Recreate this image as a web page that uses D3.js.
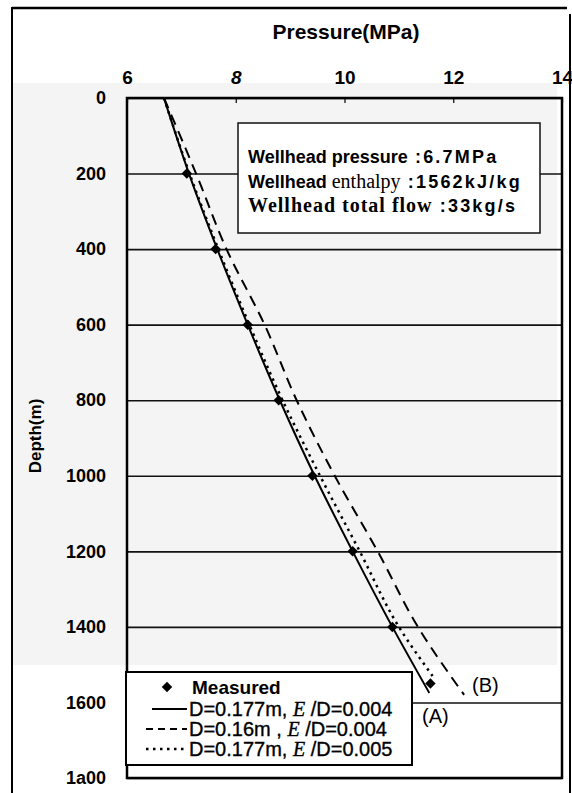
<!DOCTYPE html>
<html lang="en">
<head>
<meta charset="UTF-8">
<title>Pressure vs Depth</title>
<script src="https://d3js.org/d3.v7.min.js"></script>
<style>
  body { margin: 0; background: #fff; }
  svg { display: block; font-family: 'Liberation Sans', Arial, sans-serif; }
  .serif { font-family: 'Liberation Serif', 'Times New Roman', serif; }
</style>
</head>
<body>
<svg width="572" height="793"></svg>
<script>
// values
const pressureTicks = [6, 8, 10, 12, 14];
const depthTicks = [0, 200, 400, 600, 800, 1000, 1200, 1400, 1600, 1800];
const depthLabels = ["0", "200", "400", "600", "800", "1000", "1200", "1400", "1600", "1a00"];

const measuredDepth = [200, 400, 600, 800, 1000, 1200, 1400, 1550];
const measuredPressure = [7.10, 7.63, 8.22, 8.79, 9.41, 10.15, 10.88, 11.58];

// (A) D=0.177m, e/D=0.004
const caseADepth = [0, 200, 400, 600, 800, 1000, 1200, 1400, 1575];
const caseAPressure = [6.68, 7.14, 7.66, 8.22, 8.81, 9.45, 10.15, 10.88, 11.56];
// (B) D=0.16m, e/D=0.004
const caseBDepth = [0, 200, 400, 600, 800, 1000, 1200, 1400, 1580];
const caseBPressure = [6.68, 7.27, 7.83, 8.53, 9.12, 9.82, 10.61, 11.35, 12.2];
// D=0.177m, e/D=0.005
const caseCDepth = [0, 200, 400, 600, 800, 1000, 1200, 1400, 1530];
const caseCPressure = [6.68, 7.15, 7.68, 8.25, 8.86, 9.55, 10.28, 11.0, 11.62];

const infoLines = [
  ["Wellhead", " pressure", " :6.7MPa"],
  ["Wellhead", " enthalpy", " :1562kJ/kg"],
  ["Wellhead total flow", "", " :33kg/s"]
];

const svg = d3.select("svg");

const x = d3.scaleLinear().domain([6, 14]).range([127, 562]);
const y = d3.scaleLinear().domain([0, 1800]).range([98, 778]);

// page frame + shaded band (scan look)
svg.append("rect").attr("x", 13).attr("y", 83).attr("width", 544).attr("height", 582).attr("fill", "#f4f4f4");
svg.append("line").attr("x1", 12).attr("x2", 567).attr("y1", 8).attr("y2", 8).attr("stroke", "#000").attr("stroke-width", 2.5);
svg.append("line").attr("x1", 12).attr("x2", 12).attr("y1", 7).attr("y2", 793).attr("stroke", "#000").attr("stroke-width", 2);
svg.append("line").attr("x1", 570).attr("x2", 570).attr("y1", 14).attr("y2", 793).attr("stroke", "#000").attr("stroke-width", 2);

// y axis with gridlines
const yAxis = svg.append("g")
  .attr("transform", `translate(${x(6)},0)`)
  .call(d3.axisLeft(y).tickValues(depthTicks)
    .tickSize(-(x(14) - x(6)))
    .tickPadding(21)
    .tickFormat((d, i) => depthLabels[i]));
yAxis.select(".domain").remove();
yAxis.selectAll(".tick line").attr("stroke", "#111").attr("stroke-width", 1.6);
yAxis.selectAll(".tick text")
  .attr("font-size", 18).attr("font-weight", "bold").attr("fill", "#000")
  .attr("font-family", "'Liberation Sans', Arial, sans-serif");

// x axis on top
const xAxis = svg.append("g")
  .attr("transform", `translate(0,${y(0)})`)
  .call(d3.axisTop(x).tickValues(pressureTicks).tickSize(-5).tickPadding(14));
xAxis.select(".domain").remove();
xAxis.selectAll(".tick line").attr("stroke", "#000").attr("stroke-width", 1.2);
xAxis.selectAll(".tick text")
  .attr("font-size", 19).attr("font-weight", "bold").attr("fill", "#000")
  .attr("font-family", "'Liberation Sans', Arial, sans-serif")
  .attr("font-style", d => d === 8 ? "italic" : "normal");

// plot frame
svg.append("rect")
  .attr("x", x(6)).attr("y", y(0))
  .attr("width", x(14) - x(6)).attr("height", y(1800) - y(0))
  .attr("fill", "none").attr("stroke", "#000").attr("stroke-width", 2.5);

// axis titles
svg.append("text")
  .attr("x", 346).attr("y", 39)
  .attr("text-anchor", "middle")
  .attr("font-size", 21).attr("font-weight", "bold")
  .text("Pressure(MPa)");

svg.append("text")
  .attr("transform", "translate(41,436) rotate(-90)")
  .attr("text-anchor", "middle")
  .attr("font-size", 17).attr("font-weight", "bold")
  .text("Depth(m)");

// info box
const info = svg.append("g");
info.append("rect")
  .attr("x", 238).attr("y", 123).attr("width", 302).attr("height", 110)
  .attr("fill", "#fff").attr("stroke", "#111").attr("stroke-width", 1.5);
const infoText = info.selectAll("text")
  .data(infoLines)
  .join("text")
  .attr("x", 248)
  .attr("y", (d, i) => 163 + i * 24.5)
  .attr("font-size", 18);
infoText.append("tspan")
  .attr("font-weight", "bold")
  .attr("class", (d, i) => i === 2 ? "serif" : null)
  .attr("font-size", (d, i) => i === 2 ? 20 : 18)
  .attr("letter-spacing", (d, i) => i === 2 ? 1 : 0)
  .text(d => d[0]);
infoText.append("tspan")
  .attr("class", (d, i) => i === 1 ? "serif" : null)
  .attr("font-weight", (d, i) => i === 1 ? "normal" : "bold")
  .attr("font-size", (d, i) => i === 1 ? 20 : 18)
  .text(d => d[1]);
infoText.append("tspan")
  .attr("font-weight", "bold")
  .attr("letter-spacing", 2.2)
  .text(d => d[2]);

// model curves
const series = [
  { depth: caseADepth, p: caseAPressure, dash: null, width: 2 },
  { depth: caseBDepth, p: caseBPressure, dash: "11 7", width: 2 },
  { depth: caseCDepth, p: caseCPressure, dash: "2.5 4.5", width: 2.5 }
];

const line = d3.line()
  .curve(d3.curveMonotoneY)
  .x(d => x(d[1]))
  .y(d => y(d[0]));

svg.append("g")
  .selectAll("path")
  .data(series)
  .join("path")
  .attr("fill", "none")
  .attr("stroke", "#000")
  .attr("stroke-width", d => d.width)
  .attr("stroke-dasharray", d => d.dash)
  .attr("d", d => line(d.depth.map((v, i) => [v, d.p[i]])));

// measured points
const diamond = d3.symbol().type(d3.symbolDiamond2).size(70);
svg.append("g")
  .selectAll("path")
  .data(measuredDepth.map((v, i) => [v, measuredPressure[i]]))
  .join("path")
  .attr("transform", d => `translate(${x(d[1])},${y(d[0])})`)
  .attr("d", diamond)
  .attr("fill", "#000");

// curve labels
svg.append("text").attr("x", 472).attr("y", 692).attr("font-size", 20).text("(B)");
svg.append("text").attr("x", 422).attr("y", 723).attr("font-size", 20).text("(A)");

// legend
const legend = svg.append("g");
legend.append("rect")
  .attr("x", 126).attr("y", 672).attr("width", 286).attr("height", 93)
  .attr("fill", "#fff").attr("stroke", "#000").attr("stroke-width", 2);

legend.append("path")
  .attr("transform", "translate(167,687)")
  .attr("d", diamond).attr("fill", "#000");
legend.append("text")
  .attr("x", 192).attr("y", 687).attr("dy", "0.35em")
  .attr("font-size", 19).attr("font-weight", "bold")
  .text("Measured");

const legendRows = [
  { dash: null, width: 2.2, name: "D=0.177m, ", tail: " /D=0.004" },
  { dash: "7 5", width: 2.2, name: "D=0.16m  , ", tail: " /D=0.004" },
  { dash: "2.5 4.5", width: 2.5, name: "D=0.177m, ", tail: " /D=0.005" }
];
legendRows.forEach((r, i) => {
  const cy = 709 + i * 20;
  legend.append("line")
    .attr("x1", i === 0 ? 152 : 146).attr("x2", 187)
    .attr("y1", cy).attr("y2", cy)
    .attr("stroke", "#000").attr("stroke-width", r.width)
    .attr("stroke-dasharray", r.dash);
  const t = legend.append("text")
    .attr("x", 189).attr("y", cy).attr("dy", "0.35em")
    .attr("font-size", 20)
    .attr("stroke", "#000").attr("stroke-width", 0.35);
  t.append("tspan").text(r.name);
  t.append("tspan").attr("class", "serif").attr("font-style", "italic").text("E");
  t.append("tspan").text(r.tail);
});
</script>
</body>
</html>
